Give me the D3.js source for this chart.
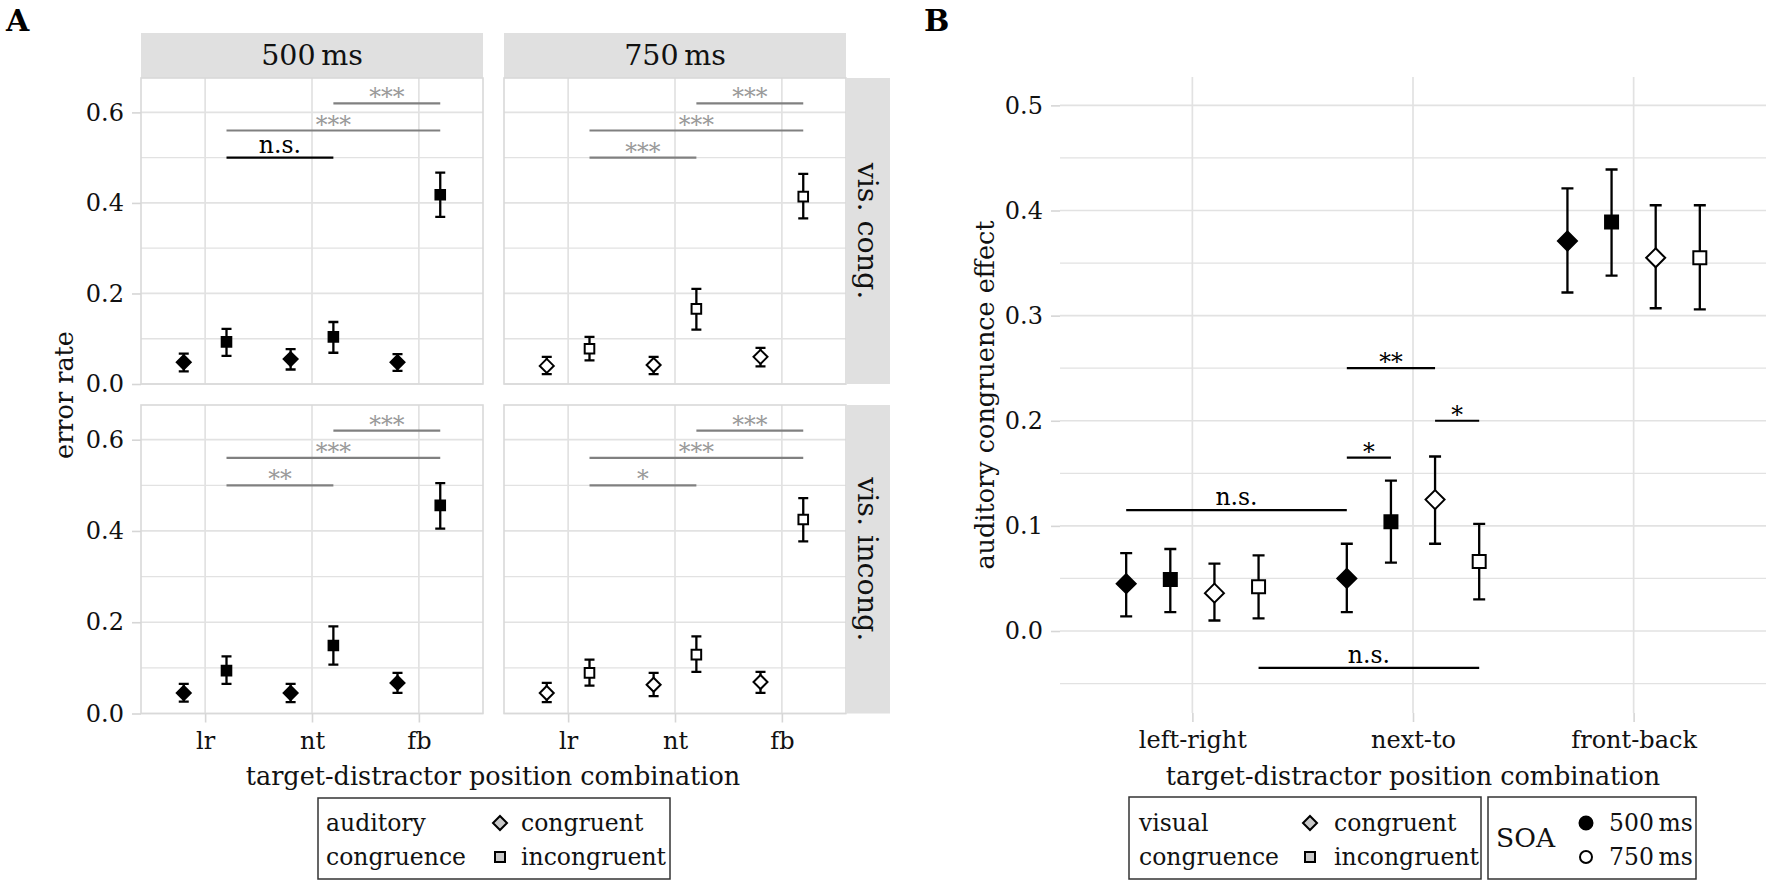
<!DOCTYPE html>
<html>
<head>
<meta charset="utf-8">
<script src="https://cdn.jsdelivr.net/npm/d3@7"></script>
<style>
  html, body { margin: 0; padding: 0; background: #fff; }
  svg text { font-family: "DejaVu Serif", "Liberation Serif", serif; }
</style>
</head>
<body>
<div id="chart"></div>
<script>
// ---- panel A: error rates (rows = auditory congruent / incongruent, cols = lr, nt, fb)
const posA = ["lr", "nt", "fb"];
const soaLevels = ["500\u2009ms", "750\u2009ms"];
const visRows = ["vis. cong.", "vis. incong."];
const audLevels = ["congruent", "incongruent"];

const mean500VisCong = [[0.048, 0.055, 0.048], [0.093, 0.104, 0.418]];
const lo500VisCong   = [[0.028, 0.032, 0.029], [0.062, 0.069, 0.369]];
const hi500VisCong   = [[0.067, 0.077, 0.066], [0.122, 0.137, 0.467]];

const mean750VisCong = [[0.040, 0.042, 0.060], [0.078, 0.166, 0.414]];
const lo750VisCong   = [[0.022, 0.022, 0.039], [0.052, 0.120, 0.366]];
const hi750VisCong   = [[0.060, 0.060, 0.080], [0.104, 0.210, 0.464]];

const mean500VisIncong = [[0.045, 0.045, 0.067], [0.094, 0.149, 0.456]];
const lo500VisIncong   = [[0.026, 0.025, 0.045], [0.065, 0.107, 0.405]];
const hi500VisIncong   = [[0.065, 0.065, 0.089], [0.125, 0.191, 0.505]];

const mean750VisIncong = [[0.045, 0.063, 0.069], [0.089, 0.129, 0.425]];
const lo750VisIncong   = [[0.025, 0.038, 0.045], [0.061, 0.091, 0.377]];
const hi750VisIncong   = [[0.067, 0.089, 0.091], [0.118, 0.169, 0.472]];

// comparisons between auditory-incongruent points: [from, to, y, label]
const sig500VisCong   = [["nt", "fb", 0.62, "***"], ["lr", "fb", 0.56, "***"], ["lr", "nt", 0.50, "n.s."]];
const sig750VisCong   = [["nt", "fb", 0.62, "***"], ["lr", "fb", 0.56, "***"], ["lr", "nt", 0.50, "***"]];
const sig500VisIncong = [["nt", "fb", 0.62, "***"], ["lr", "fb", 0.56, "***"], ["lr", "nt", 0.50, "**"]];
const sig750VisIncong = [["nt", "fb", 0.62, "***"], ["lr", "fb", 0.56, "***"], ["lr", "nt", 0.50, "*"]];

const yTicksA = [0, 0.2, 0.4, 0.6];
const yMinorA = [0.1, 0.3, 0.5];

// ---- panel B: auditory congruence effect (rows = groups, cols = positions)
const posB = ["left-right", "next-to", "front-back"];
const groupB = ["500 ms / vis. congruent", "500 ms / vis. incongruent", "750 ms / vis. congruent", "750 ms / vis. incongruent"];
const effMean = [[0.045, 0.050, 0.371], [0.049, 0.104, 0.389], [0.036, 0.125, 0.355], [0.042, 0.066, 0.355]];
const effLo   = [[0.014, 0.018, 0.322], [0.018, 0.065, 0.338], [0.010, 0.083, 0.307], [0.012, 0.030, 0.306]];
const effHi   = [[0.074, 0.083, 0.421], [0.078, 0.143, 0.439], [0.064, 0.166, 0.405], [0.072, 0.102, 0.405]];
// [fromPos, fromGroup, toPos, toGroup, y, label]
const sigB = [
    ["left-right", 0, "next-to", 0, 0.115, "n.s."],
    ["left-right", 3, "next-to", 3, -0.035, "n.s."],
    ["next-to", 0, "next-to", 1, 0.165, "*"],
    ["next-to", 0, "next-to", 2, 0.25, "**"],
    ["next-to", 2, "next-to", 3, 0.20, "*"]
];
const yTicksB = [0, 0.1, 0.2, 0.3, 0.4, 0.5];
const yMinorB = [-0.05, 0.05, 0.15, 0.25, 0.35, 0.45];

const FS_TICK = 24, FS_TITLE = 25.5, FS_STRIP = 28.5, FS_LEG = 23.5, FS_SIG = 23.5;
const FONT = "DejaVu Serif, Liberation Serif, serif";
const GRID = "#e2e2e2";
const TXT = "#111";

class ErrorRateFigure {
    constructor() {
        this.svg = d3.select("#chart").append("svg")
            .attr("width", 1772)
            .attr("height", 885)
            .attr("font-family", FONT);
        this.drawPanelA();
        this.drawPanelB();
    }

    label(g, x, y, txt, size, anchor) {
        return g.append("text").attr("x", x).attr("y", y)
            .attr("text-anchor", anchor || "start")
            .attr("font-size", size).attr("fill", TXT).text(txt);
    }

    marker(g, shape, x, y, filled, r) {
        const fill = filled === true ? "#000" : (filled || "#fff");
        if (shape === "circle") {
            return g.append("circle").attr("cx", x).attr("cy", y).attr("r", r)
                .attr("fill", fill).attr("stroke", "#000").attr("stroke-width", 2);
        }
        const d = shape === "diamond"
            ? `M${x},${y - r}L${x + r},${y}L${x},${y + r}L${x - r},${y}Z`
            : `M${x - r},${y - r}h${2 * r}v${2 * r}h${-2 * r}Z`;
        return g.append("path").attr("d", d)
            .attr("fill", fill).attr("stroke", "#000").attr("stroke-width", 2);
    }

    errorBar(g, x, yLo, yHi, cap) {
        g.append("path")
            .attr("d", `M${x},${yLo}V${yHi}M${x - cap / 2},${yLo}h${cap}M${x - cap / 2},${yHi}h${cap}`)
            .attr("fill", "none").attr("stroke", "#000").attr("stroke-width", 2.3);
    }

    sigLine(g, x1, x2, y, label, lineCol, textCol) {
        g.append("line").attr("x1", x1).attr("x2", x2).attr("y1", y).attr("y2", y)
            .attr("stroke", lineCol).attr("stroke-width", 2.2);
        const star = label.indexOf("*") >= 0;
        g.append("text")
            .attr("x", (x1 + x2) / 2)
            .attr("y", star ? y + 2 : y - 5)
            .attr("text-anchor", "middle")
            .attr("font-size", FS_SIG)
            .attr("fill", textCol)
            .text(label);
    }

    styleAxis(ax) {
        ax.select(".domain").remove();
        ax.attr("font-family", FONT);
        ax.selectAll(".tick line").attr("stroke", "#d6d6d6").attr("stroke-width", 1.6);
        ax.selectAll(".tick text").attr("fill", TXT).attr("font-size", FS_TICK);
    }

    drawPanelA() {
        const svg = this.svg;
        const colX = [141, 504], panelW = 342;
        const rowY = [[384, 78], [713.5, 405]];   // [bottom, top]
        const means = [[mean500VisCong, mean750VisCong], [mean500VisIncong, mean750VisIncong]];
        const los = [[lo500VisCong, lo750VisCong], [lo500VisIncong, lo750VisIncong]];
        const his = [[hi500VisCong, hi750VisCong], [hi500VisIncong, hi750VisIncong]];
        const sigs = [[sig500VisCong, sig750VisCong], [sig500VisIncong, sig750VisIncong]];

        svg.append("text").attr("x", 6).attr("y", 31)
            .attr("font-size", 30).attr("font-weight", "bold").attr("fill", "#000").text("A");

        soaLevels.forEach((soa, c) => {
            const x = d3.scalePoint().domain(posA).range([colX[c], colX[c] + panelW]).padding(0.6);
            const dodge = d3.scaleBand().domain(audLevels).range([-0.4 * x.step(), 0.4 * x.step()]);
            const dx = a => dodge(a) + dodge.bandwidth() / 2;

            // column strip
            svg.append("rect").attr("x", colX[c]).attr("y", 33).attr("width", panelW).attr("height", 45)
                .attr("fill", "#e0e0e0");
            this.label(svg, colX[c] + panelW / 2, 55.5, soa, FS_STRIP, "middle").attr("dy", "0.35em");

            visRows.forEach((vis, r) => {
                const [yb, yt] = rowY[r];
                const y = d3.scaleLinear().domain([0, 0.676]).range([yb, yt]);
                const g = svg.append("g");

                // grid
                g.selectAll(".minor").data(yMinorA).join("line")
                    .attr("x1", colX[c]).attr("x2", colX[c] + panelW)
                    .attr("y1", d => y(d)).attr("y2", d => y(d))
                    .attr("stroke", GRID).attr("stroke-width", 1.3);
                g.selectAll(".major").data(yTicksA).join("line")
                    .attr("x1", colX[c]).attr("x2", colX[c] + panelW)
                    .attr("y1", d => y(d)).attr("y2", d => y(d))
                    .attr("stroke", GRID).attr("stroke-width", 1.7);
                g.selectAll(".vgrid").data(posA).join("line")
                    .attr("x1", d => x(d)).attr("x2", d => x(d))
                    .attr("y1", yb).attr("y2", yt)
                    .attr("stroke", GRID).attr("stroke-width", 1.7);
                g.append("rect").attr("x", colX[c]).attr("y", yt)
                    .attr("width", panelW).attr("height", yb - yt)
                    .attr("fill", "none").attr("stroke", "#d9d9d9").attr("stroke-width", 1.6);

                // row strip on the right
                if (c === 1) {
                    svg.append("rect").attr("x", 846).attr("y", yt).attr("width", 44)
                        .attr("height", yb - yt).attr("fill", "#e0e0e0");
                    svg.append("text").attr("transform", `translate(868,${(yb + yt) / 2}) rotate(90)`)
                        .attr("dy", "0.35em").attr("text-anchor", "middle")
                        .attr("font-size", FS_STRIP).attr("fill", TXT).text(vis);
                }

                if (c === 0) {
                    const ax = svg.append("g").attr("transform", `translate(${colX[c]},0)`)
                        .call(d3.axisLeft(y).tickValues(yTicksA).tickFormat(d3.format(".1f")).tickSize(9).tickPadding(8));
                    this.styleAxis(ax);
                }
                if (r === 1) {
                    const ax = svg.append("g").attr("transform", `translate(0,${yb})`)
                        .call(d3.axisBottom(x).tickSize(9).tickPadding(9));
                    this.styleAxis(ax);
                }

                // significance brackets
                sigs[r][c].forEach(s => {
                    const ns = s[3] === "n.s.";
                    this.sigLine(g, x(s[0]) + dx("incongruent"), x(s[1]) + dx("incongruent"), y(s[2]), s[3],
                        ns ? "#000" : "#808080", ns ? "#000" : "#9a9a9a");
                });

                // points with error bars
                audLevels.forEach((a, ai) => {
                    posA.forEach((p, pi) => {
                        const px = x(p) + dx(a);
                        this.errorBar(g, px, y(los[r][c][ai][pi]), y(his[r][c][ai][pi]), 10);
                        const shape = a === "congruent" ? "diamond" : "square";
                        this.marker(g, shape, px, y(means[r][c][ai][pi]), c === 0, shape === "diamond" ? 7 : 4.8);
                    });
                });
            });
        });

        // axis titles
        svg.append("text").attr("transform", "translate(64,395) rotate(-90)").attr("dy", "0.35em")
            .attr("text-anchor", "middle").attr("font-size", FS_TITLE).attr("fill", TXT).text("error rate");
        this.label(svg, 493, 785, "target-distractor position combination", FS_TITLE, "middle");

        // legend
        svg.append("rect").attr("x", 318).attr("y", 798).attr("width", 352).attr("height", 81)
            .attr("fill", "#fff").attr("stroke", "#333").attr("stroke-width", 1.5);
        this.label(svg, 326, 831, "auditory", FS_LEG);
        this.label(svg, 326, 865, "congruence", FS_LEG);
        this.marker(svg, "diamond", 500, 823, "#c8c8c8", 7);
        this.marker(svg, "square", 500, 857, "#c8c8c8", 5);
        this.label(svg, 521, 831, audLevels[0], FS_LEG);
        this.label(svg, 521, 865, audLevels[1], FS_LEG);
    }

    drawPanelB() {
        const svg = this.svg;
        const left = 1060, right = 1766, top = 77, bottom = 713;
        const x = d3.scalePoint().domain(posB).range([left, right]).padding(0.6);
        const dodge = d3.scaleBand().domain(d3.range(groupB.length)).range([-0.4 * x.step(), 0.4 * x.step()]);
        const dx = i => dodge(i) + dodge.bandwidth() / 2;
        const y = d3.scaleLinear().domain([-0.078, 0.527]).range([bottom, top]);
        const g = svg.append("g");

        svg.append("text").attr("x", 924).attr("y", 31)
            .attr("font-size", 30).attr("font-weight", "bold").attr("fill", "#000").text("B");

        g.selectAll(".minor").data(yMinorB).join("line")
            .attr("x1", left).attr("x2", right).attr("y1", d => y(d)).attr("y2", d => y(d))
            .attr("stroke", GRID).attr("stroke-width", 1.3);
        g.selectAll(".major").data(yTicksB).join("line")
            .attr("x1", left).attr("x2", right).attr("y1", d => y(d)).attr("y2", d => y(d))
            .attr("stroke", GRID).attr("stroke-width", 1.7);
        g.selectAll(".vgrid").data(posB).join("line")
            .attr("x1", d => x(d)).attr("x2", d => x(d)).attr("y1", top).attr("y2", bottom)
            .attr("stroke", GRID).attr("stroke-width", 1.7);

        const axL = svg.append("g").attr("transform", `translate(${left},0)`)
            .call(d3.axisLeft(y).tickValues(yTicksB).tickFormat(d3.format(".1f")).tickSize(9).tickPadding(8));
        this.styleAxis(axL);
        const axB = svg.append("g").attr("transform", `translate(0,${bottom})`)
            .call(d3.axisBottom(x).tickSize(9).tickPadding(9));
        this.styleAxis(axB);

        sigB.forEach(s => {
            this.sigLine(g, x(s[0]) + dx(s[1]), x(s[2]) + dx(s[3]), y(s[4]), s[5], "#000", "#000");
        });

        groupB.forEach((grp, gi) => {
            posB.forEach((p, pi) => {
                const px = x(p) + dx(gi);
                this.errorBar(g, px, y(effLo[gi][pi]), y(effHi[gi][pi]), 12);
                const shape = gi % 2 === 0 ? "diamond" : "square";
                this.marker(g, shape, px, y(effMean[gi][pi]), gi < 2, shape === "diamond" ? 9.5 : 6.5);
            });
        });

        svg.append("text").attr("transform", "translate(985,395) rotate(-90)").attr("dy", "0.35em")
            .attr("text-anchor", "middle").attr("font-size", FS_TITLE).attr("fill", TXT).text("auditory congruence effect");
        this.label(svg, 1413, 785, "target-distractor position combination", FS_TITLE, "middle");

        // legends
        svg.append("rect").attr("x", 1129).attr("y", 797).attr("width", 352).attr("height", 82)
            .attr("fill", "#fff").attr("stroke", "#333").attr("stroke-width", 1.5);
        this.label(svg, 1139, 831, "visual", FS_LEG);
        this.label(svg, 1139, 865, "congruence", FS_LEG);
        this.marker(svg, "diamond", 1310, 823, "#c8c8c8", 7);
        this.marker(svg, "square", 1310, 857, "#c8c8c8", 5);
        this.label(svg, 1334, 831, "congruent", FS_LEG);
        this.label(svg, 1334, 865, "incongruent", FS_LEG);

        svg.append("rect").attr("x", 1488).attr("y", 797).attr("width", 208).attr("height", 82)
            .attr("fill", "#fff").attr("stroke", "#333").attr("stroke-width", 1.5);
        this.label(svg, 1496, 838, "SOA", FS_STRIP - 2).attr("dy", "0.35em");
        this.marker(svg, "circle", 1586, 823, true, 6.5);
        this.marker(svg, "circle", 1586, 857, false, 6);
        this.label(svg, 1609, 831, soaLevels[0], FS_LEG);
        this.label(svg, 1609, 865, soaLevels[1], FS_LEG);
    }
}

new ErrorRateFigure();
</script>
</body>
</html>
